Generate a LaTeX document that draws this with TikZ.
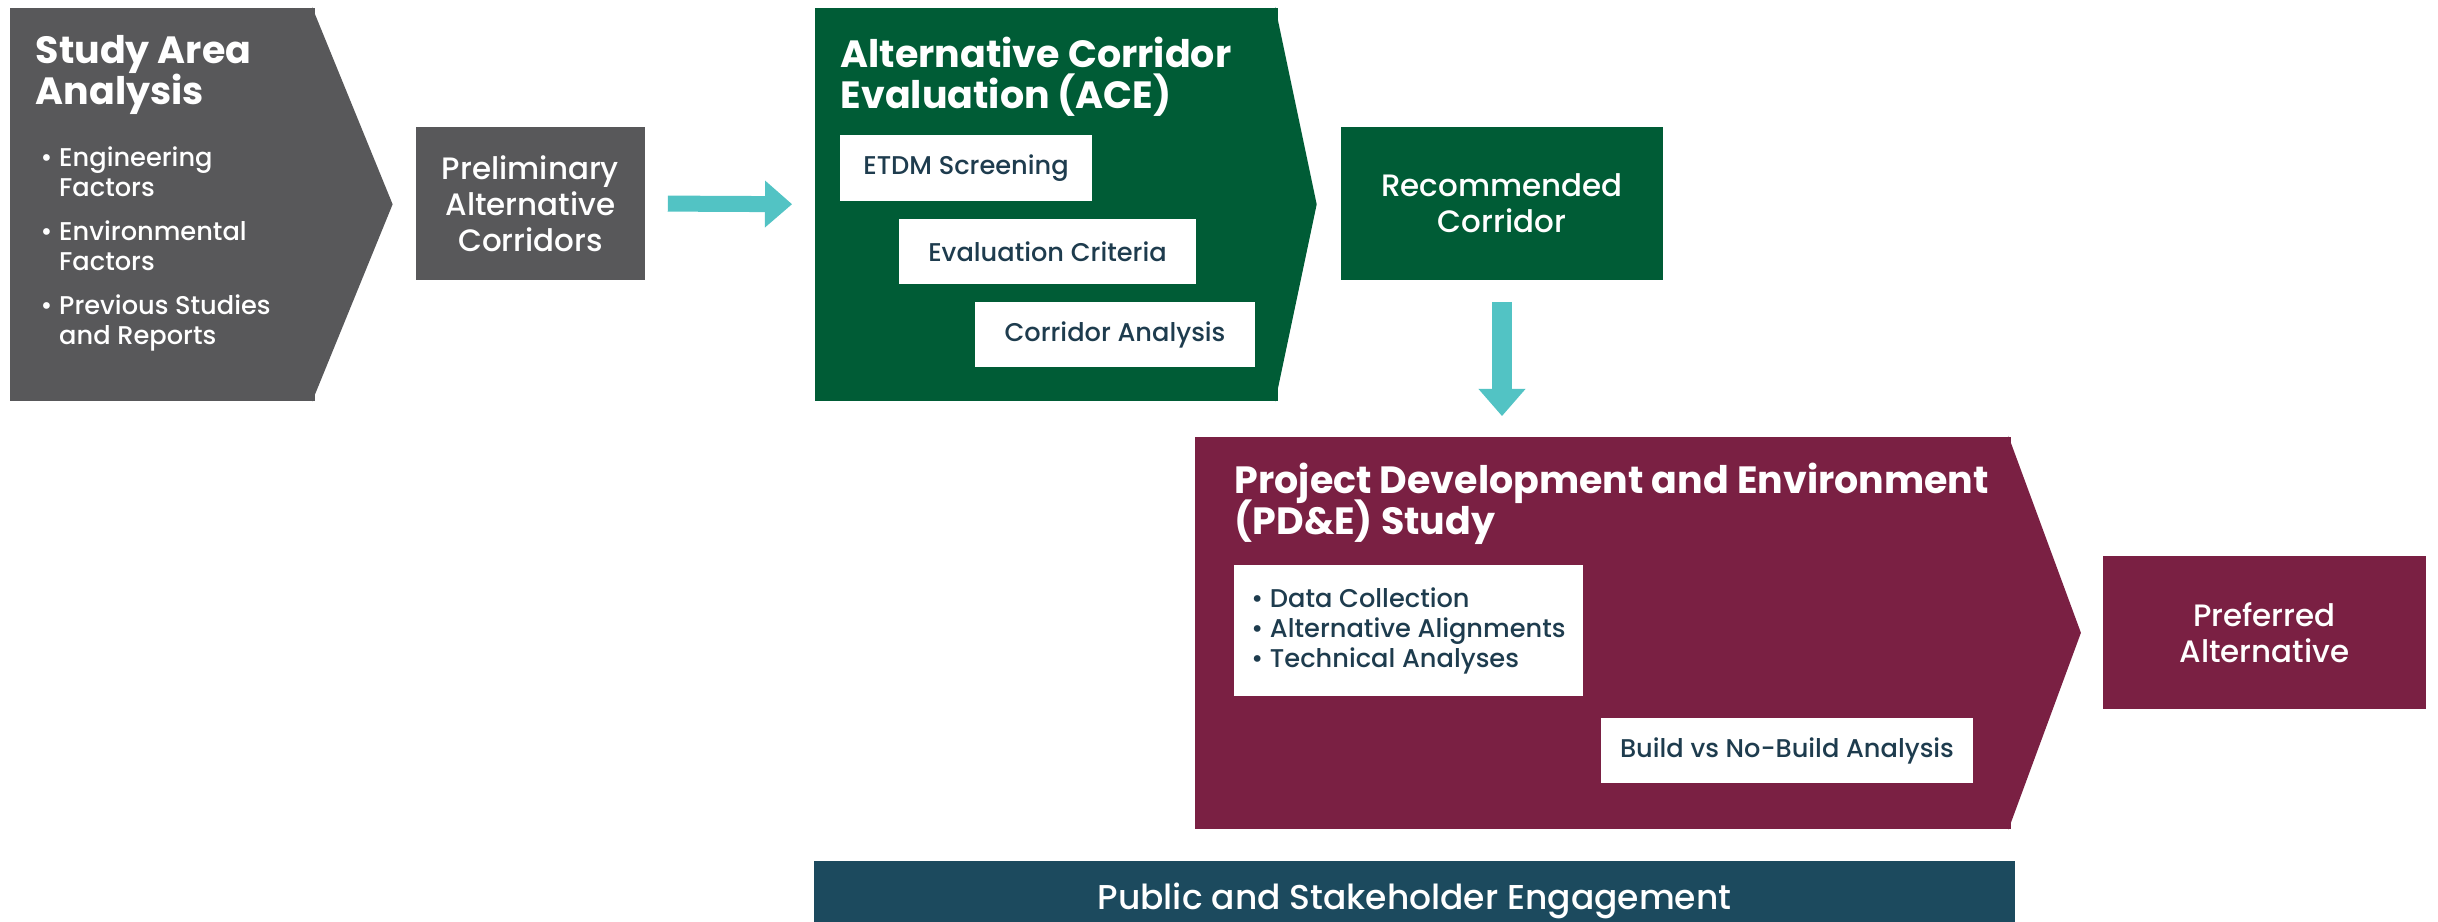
\documentclass[tikz,border=0pt]{standalone}
\usepackage{fontspec}
\setmainfont{Poppins}[UprightFont={* Medium}, BoldFont={* Bold}]
\usetikzlibrary{arrows.meta}
\definecolor{studygray}{HTML}{58585A}
\definecolor{acegreen}{HTML}{005C36}
\definecolor{pdemaroon}{HTML}{7A2043}
\definecolor{flowteal}{HTML}{52C3C4}
\definecolor{pubblue}{HTML}{1C4A5E}
\definecolor{boxtext}{HTML}{1E3C4E}
\newcommand{\tightlines}{\lineskiplimit=-20pt\relax}
\tikzstyle{phase} = [rectangle, inner sep=0pt, anchor=north west]
\tikzstyle{heading} = [anchor=north west, inner sep=0pt, text=white, align=left, font=\bfseries\fontsize{10.8}{11.7}\selectfont\tightlines]
\tikzstyle{bullets} = [anchor=north west, inner sep=0pt, align=left, font=\fontsize{7.3}{8.54}\selectfont]
\tikzstyle{result} = [rectangle, inner sep=0pt, text=white, align=center, font=\fontsize{8.8}{10.24}\selectfont]
\tikzstyle{task} = [rectangle, fill=white, text=boxtext, inner sep=0pt, align=left, font=\fontsize{7.3}{8.54}\selectfont]
\tikzstyle{flow} = [draw=flowteal, -{Triangle[length=0.27cm,width=0.47cm,line width=0pt,fill=flowteal]}]

\begin{document}
\begin{tikzpicture}[x=0.01cm,y=-0.01cm]
    \useasboundingbox (0,0) rectangle (2438,922);
    \clip (0,0) rectangle (2438,922);
    % study area analysis
    \node (study) [phase, fill=studygray, minimum width=3.05cm, minimum height=3.93cm] at (9,7) {};
    \fill[studygray] ([xshift=-1pt]study.north east) -- ([xshift=0.77cm]study.east) -- ([xshift=-1pt]study.south east) -- cycle;
    \node (studytitle) [heading] at (35,35) {Study Area\\Analysis};
    \node (studylist) [bullets, text=white] at (40,146) {\textbullet\ Engineering\\\hphantom{\textbullet\ }Factors\\[4pt]
        \textbullet\ Environmental\\\hphantom{\textbullet\ }Factors\\[4pt]
        \textbullet\ Previous Studies\\\hphantom{\textbullet\ }and Reports};
    \node (prelim) [result, fill=studygray, minimum width=2.29cm, minimum height=1.53cm] at (530.5,203.5) {Preliminary\\Alternative\\Corridors};

    % alternative corridor evaluation
    \node (ace) [phase, fill=acegreen, minimum width=4.63cm, minimum height=3.93cm] at (814,7) {};
    \fill[acegreen] ([xshift=-1pt]ace.north east) -- ([xshift=0.38cm]ace.east) -- ([xshift=-1pt]ace.south east) -- cycle;
    \node (acetitle) [heading] at (840,36) {Alternative Corridor\\Evaluation (ACE)};
    \node (etdm) [task, minimum width=2.52cm, minimum height=0.66cm] at (966,168) {ETDM Screening};
    \node (criteria) [task, minimum width=2.97cm, minimum height=0.65cm] at (1047.5,251.5) {Evaluation Criteria};
    \node (analysis) [task, minimum width=2.80cm, minimum height=0.65cm] at (1115,334.5) {Corridor Analysis};
    \node (rec) [result, fill=acegreen, minimum width=3.22cm, minimum height=1.53cm] at (1502,203.5) {Recommended\\Corridor};

    % pd&e study
    \node (pde) [phase, fill=pdemaroon, minimum width=8.16cm, minimum height=3.92cm] at (1194,436) {};
    \fill[pdemaroon] ([xshift=-1pt]pde.north east) -- ([xshift=0.69cm]pde.east) -- ([xshift=-1pt]pde.south east) -- cycle;
    \node (pdetitle) [heading] at (1234,462) {Project Development and Environment\\(PD\&E) Study};
    \node (data) [task, minimum width=3.49cm, minimum height=1.31cm] at (1408.5,630.5) {\textbullet\ Data Collection\\\textbullet\ Alternative Alignments\\\textbullet\ Technical Analyses};
    \node (build) [task, minimum width=3.72cm, minimum height=0.65cm] at (1787,750.5) {Build vs No-Build Analysis};
    \node (pref) [result, fill=pdemaroon, minimum width=3.23cm, minimum height=1.53cm] at (2264.5,632.5) {Preferred\\Alternative};

    % engagement bar
    \node (public) [result, fill=pubblue, minimum width=12.01cm, minimum height=0.8cm, font=\fontsize{9.8}{11}\selectfont] at (1414.5,901) {Public and Stakeholder Engagement};

    \draw [flow, line width=0.16cm, shorten <=0.22cm, shorten >=0.22cm] (prelim.east) -- (ace.west);
    \draw [flow, line width=0.2cm, shorten <=0.21cm, shorten >=0.2cm] (rec.south) -- (rec.south |- pde.north);
\end{tikzpicture}
\end{document}
